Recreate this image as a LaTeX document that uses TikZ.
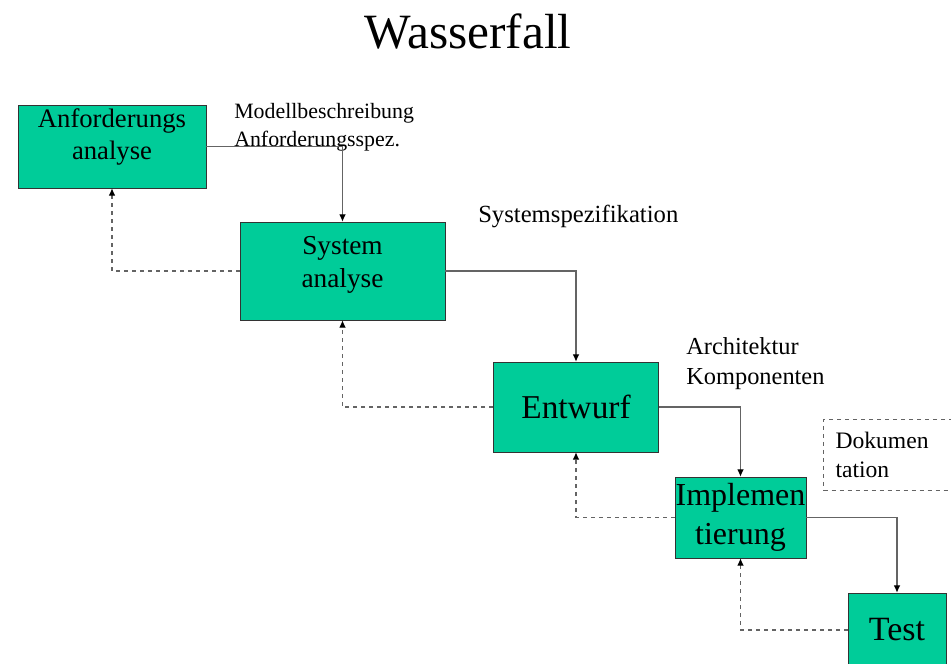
\documentclass[tikz,border=0pt]{standalone}
\usepackage{fontspec}
\setmainfont{Liberation Serif}
\usepackage{xcolor}
\usepackage{tikz}
\usetikzlibrary{arrows.meta}
\definecolor{phasegreen}{RGB}{0,204,153}
\definecolor{linegray}{RGB}{100,100,100}

\begin{document}
\begin{tikzpicture}[x=0.75pt, y=-0.75pt,
    phase/.style={draw=black!80, fill=phasegreen, align=center, inner sep=0pt},
    flow/.style={-{Latex[black, length=5.5pt, width=5pt]}, linegray, thick},
    back/.style={-{Latex[black, length=5.5pt, width=5pt]}, linegray, thick, dashed},
    note/.style={anchor=north west, align=left, inner sep=0pt, font=\fontsize{17}{21}\selectfont}]
            \useasboundingbox (0,0) rectangle (951,664);
            % Title
            \node (title) at (468,32) {\fontsize{37}{44}\selectfont Wasserfall};

            % Phases
            \node[phase, minimum width=141pt, minimum height=62.25pt, text depth=19.3pt, font=\fontsize{20}{24}\selectfont] (anf) at (112,146.5) {Anforderungs\\analyse};
            \node[phase, minimum width=153.75pt, minimum height=73.5pt, text depth=13.4pt, font=\fontsize{20.5}{25}\selectfont] (sys) at (342.5,271) {System\\analyse};
            \node[phase, minimum width=123.75pt, minimum height=67.5pt, font=\fontsize{25}{30}\selectfont] (ent) at (576,407) {Entwurf};
            \node[phase, minimum width=98.25pt, minimum height=60.75pt, font=\fontsize{24}{29}\selectfont] (imp) at (740.5,517.5) {Implemen\\tierung};
            \node[phase, minimum width=73.5pt, minimum height=55.5pt, font=\fontsize{25.5}{30}\selectfont] (tst) at (897,630) {Test};

            % Results
            \node[note, font=\fontsize{16.4}{21}\selectfont] (res1) at (234,103) {Modellbeschreibung\\Anforderungsspez.};
            \node[note, font=\fontsize{18.5}{22}\selectfont] (res2) at (478,205) {Systemspezifikation};
            \node[note, font=\fontsize{18.3}{22.5}\selectfont] (res3) at (686,337) {Architektur\\Komponenten};
            \node[note, draw=linegray, dashed, thick, inner xsep=9pt, inner ysep=0pt, minimum height=53.25pt, text width=100pt, font=\fontsize{17.7}{22}\selectfont] (doc) at (823,419) {Dokumen\\tation};

            % Arrows down the waterfall and back up
            \foreach \a/\b in {anf/sys, sys/ent, ent/imp, imp/tst}
            {
                \draw[flow] (\a.east) -| (\b.north);
                \draw[back] (\b.west) -| (\a.south);
            }
        \end{tikzpicture}
\end{document}
